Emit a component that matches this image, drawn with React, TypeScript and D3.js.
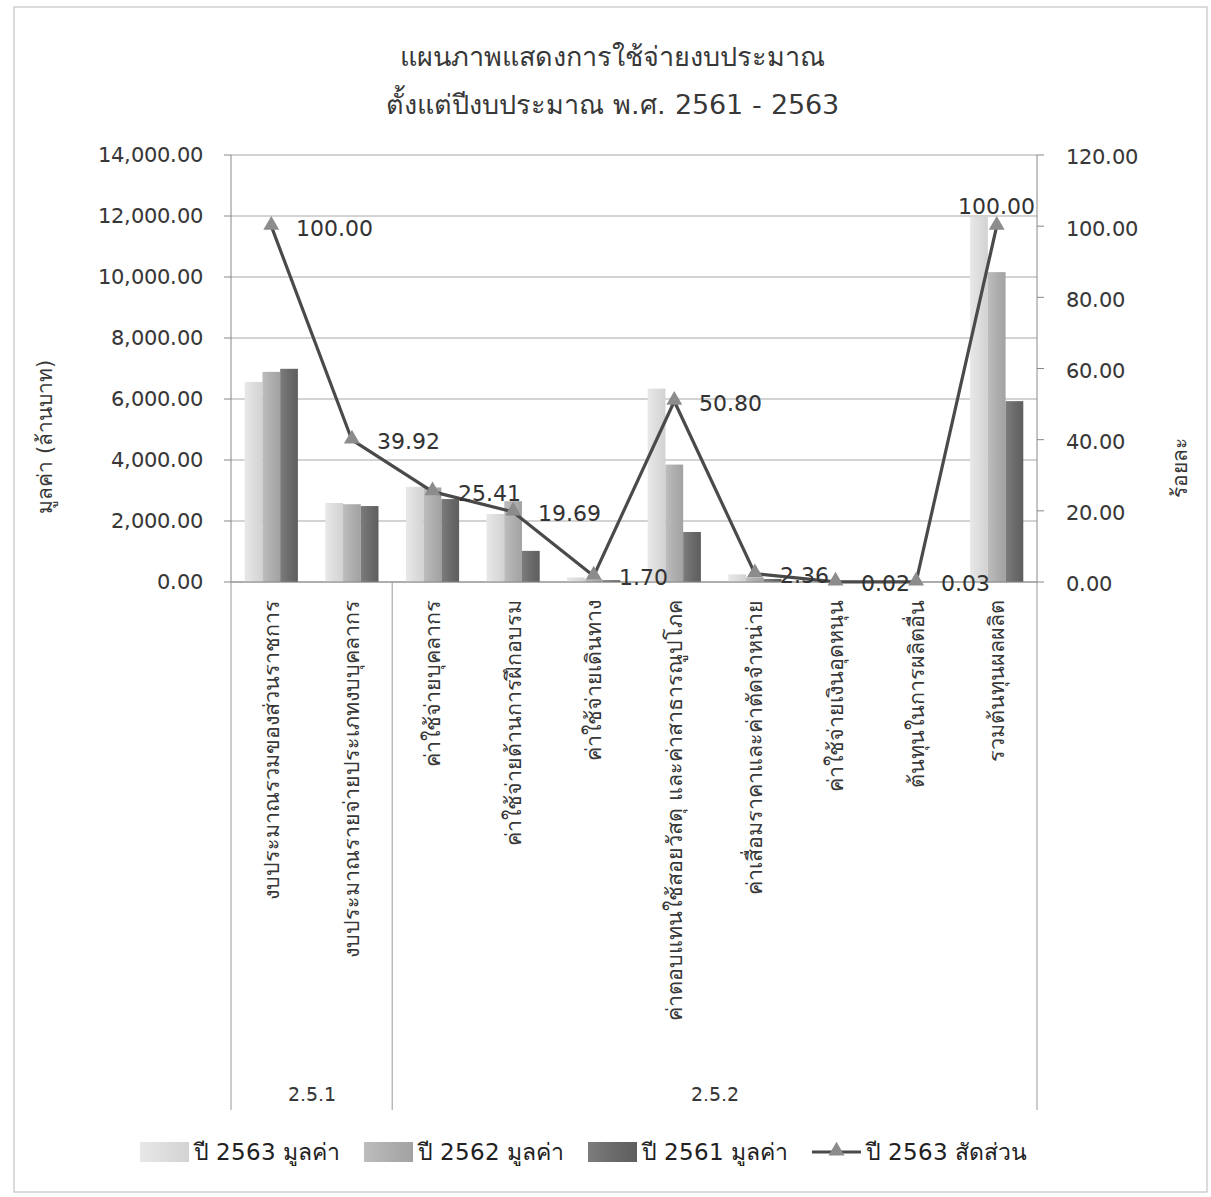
import React, { useEffect, useRef } from "react";
import * as d3 from "d3";

// categories (first level) and their group (second level)
const categories = [
  "งบประมาณรวมของส่วนราชการ",
  "งบประมาณรายจ่ายประเภทงบบุคลากร",
  "ค่าใช้จ่ายบุคลากร",
  "ค่าใช้จ่ายด้านการฝึกอบรม",
  "ค่าใช้จ่ายเดินทาง",
  "ค่าตอบแทนใช้สอยวัสดุ และค่าสาธารณูปโภค",
  "ค่าเสื่อมราคาและค่าตัดจำหน่าย",
  "ค่าใช้จ่ายเงินอุดหนุน",
  "ต้นทุนในการผลิตอื่น",
  "รวมต้นทุนผลผลิต",
];
const groups = ["2.5.1", "2.5.1", "2.5.2", "2.5.2", "2.5.2", "2.5.2", "2.5.2", "2.5.2", "2.5.2", "2.5.2"];

// values in million baht
const value2563 = [6560, 2590, 3120, 2230, 150, 6340, 250, 3, 4, 11970];
const value2562 = [6890, 2550, 3100, 2650, 90, 3850, 150, 2, 3, 10160];
const value2561 = [6990, 2490, 2720, 1020, 60, 1640, 100, 1, 2, 5930];
// percent share 2563
const share2563 = [100.0, 39.92, 25.41, 19.69, 1.7, 50.8, 2.36, 0.02, 0.03, 100.0];

const seriesNames = ["ปี 2563 มูลค่า", "ปี 2562 มูลค่า", "ปี 2561 มูลค่า"];
const lineName = "ปี 2563 สัดส่วน";
const leftTicks = [0, 2000, 4000, 6000, 8000, 10000, 12000, 14000];
const rightTicks = [0, 20, 40, 60, 80, 100, 120];

// latin digits from DejaVu (wide like Tahoma), thai from the Noto fallback
const FONT = "LatinWide, 'Noto Sans', sans-serif";
const fontCss = `@font-face { font-family: "LatinWide"; src: local("DejaVu Sans"); unicode-range: U+0020-007E; }`;

const App = () => {
  const ref = useRef<SVGSVGElement>(null);

  useEffect(() => {
    const width = 1211;
    const height = 1197;
    const left = 231;
    const right = 1037;
    const top = 155;
    const bottom = 582;
    const textColor = "#383838";

    const svg = d3.select(ref.current);
    svg.selectAll("*").remove();

    svg.append("style").text(fontCss);
    svg.append("rect").attr("width", width).attr("height", height).attr("fill", "#fff");
    // chart border
    svg
      .append("rect")
      .attr("x", 14)
      .attr("y", 7)
      .attr("width", 1193)
      .attr("height", 1185)
      .attr("fill", "none")
      .attr("stroke", "#b8b8b8");

    const defs = svg.append("defs");
    const fills = [
      ["#e8e8e8", "#d2d2d2", "#dcdcdc"],
      ["#bdbdbd", "#a2a2a2", "#adadad"],
      ["#7c7c7c", "#5e5e5e", "#6a6a6a"],
    ];
    fills.forEach((c, i) => {
      const g = defs.append("linearGradient").attr("id", "bar" + i).attr("x1", "0").attr("x2", "1").attr("y1", "0").attr("y2", "0");
      g.append("stop").attr("offset", "0%").attr("stop-color", c[0]);
      g.append("stop").attr("offset", "55%").attr("stop-color", c[2]);
      g.append("stop").attr("offset", "100%").attr("stop-color", c[1]);
    });

    const x = d3.scaleBand<string>().domain(categories).range([left, right]).paddingInner(0.34).paddingOuter(0.17);
    const step = (right - left) / categories.length;
    const xs = d3.scaleBand<number>().domain([0, 1, 2]).range([0, x.bandwidth()]);
    const yL = d3.scaleLinear().domain([0, 14000]).range([bottom, top]);
    const yR = d3.scaleLinear().domain([0, 120]).range([bottom, top]);
    const center = (i: number) => left + step * i + step / 2;

    // gridlines
    svg
      .append("g")
      .selectAll("line")
      .data(leftTicks)
      .join("line")
      .attr("x1", left)
      .attr("x2", right)
      .attr("y1", (d) => yL(d))
      .attr("y2", (d) => yL(d))
      .attr("stroke", "#a8a8a8")
      .attr("stroke-width", 1.2);

    // left axis
    const la = svg.append("g");
    la.append("line").attr("x1", left).attr("x2", left).attr("y1", top).attr("y2", bottom).attr("stroke", "#888");
    la.selectAll("line.t")
      .data(leftTicks)
      .join("line")
      .attr("class", "t")
      .attr("x1", left - 7)
      .attr("x2", left)
      .attr("y1", (d) => yL(d))
      .attr("y2", (d) => yL(d))
      .attr("stroke", "#888");
    la.selectAll("text")
      .data(leftTicks)
      .join("text")
      .attr("x", left - 28)
      .attr("y", (d) => yL(d))
      .attr("dy", "0.35em")
      .attr("text-anchor", "end")
      .attr("font-size", 21)
      .attr("fill", textColor)
      .attr("font-family", FONT)
      .text((d) => d3.format(",.2f")(d));

    // right axis
    const ra = svg.append("g");
    ra.append("line").attr("x1", right).attr("x2", right).attr("y1", top).attr("y2", bottom).attr("stroke", "#888");
    ra.selectAll("line.t")
      .data(rightTicks)
      .join("line")
      .attr("class", "t")
      .attr("x1", right)
      .attr("x2", right + 7)
      .attr("y1", (d) => yR(d))
      .attr("y2", (d) => yR(d))
      .attr("stroke", "#888");
    ra.selectAll("text")
      .data(rightTicks)
      .join("text")
      .attr("x", right + 29)
      .attr("y", (d) => yR(d) + 2)
      .attr("dy", "0.35em")
      .attr("text-anchor", "start")
      .attr("font-size", 21)
      .attr("fill", textColor)
      .attr("font-family", FONT)
      .text((d) => d3.format(".2f")(d));

    // bars
    const allSeries = [value2563, value2562, value2561];
    allSeries.forEach((vals, s) => {
      svg
        .append("g")
        .selectAll("rect")
        .data(vals)
        .join("rect")
        .attr("x", (d, i) => (x(categories[i]) as number) + (xs(s) as number))
        .attr("width", xs.bandwidth())
        .attr("y", (d) => yL(d))
        .attr("height", (d) => bottom - yL(d))
        .attr("fill", "url(#bar" + s + ")");
    });

    // category axis line + group separators
    svg.append("line").attr("x1", left).attr("x2", right).attr("y1", bottom).attr("y2", bottom).attr("stroke", "#888");
    const sepIdx: number[] = [0];
    groups.forEach((g, i) => {
      if (i > 0 && g !== groups[i - 1]) sepIdx.push(i);
    });
    sepIdx.push(categories.length);
    svg
      .append("g")
      .selectAll("line")
      .data(sepIdx)
      .join("line")
      .attr("x1", (d) => left + step * d)
      .attr("x2", (d) => left + step * d)
      .attr("y1", bottom)
      .attr("y2", 1110)
      .attr("stroke", "#999");
    const groupNames = sepIdx.slice(0, -1).map((s, k) => ({ name: groups[s], from: s, to: sepIdx[k + 1] }));
    svg
      .append("g")
      .selectAll("text")
      .data(groupNames)
      .join("text")
      .attr("x", (d) => left + step * ((d.from + d.to) / 2))
      .attr("y", 1094)
      .attr("dy", "0.35em")
      .attr("text-anchor", "middle")
      .attr("font-size", 19)
      .attr("fill", textColor)
      .attr("font-family", FONT)
      .text((d) => d.name);

    // category labels (rotated)
    svg
      .append("g")
      .selectAll("text")
      .data(categories)
      .join("text")
      .attr("transform", (d, i) => `translate(${center(i)},600) rotate(-90)`)
      .attr("dy", "0.35em")
      .attr("text-anchor", "end")
      .attr("font-size", 21.5)
      .attr("fill", textColor)
      .attr("font-family", FONT)
      .text((d) => d);

    // line series
    const line = d3
      .line<number>()
      .x((d, i) => center(i))
      .y((d) => yR(d));
    svg
      .append("path")
      .datum(share2563)
      .attr("d", line)
      .attr("fill", "none")
      .attr("stroke", "#4a4a4a")
      .attr("stroke-width", 3.2)
      .attr("stroke-linejoin", "round");
    const tri = d3.symbol().type(d3.symbolTriangle).size(110);
    svg
      .append("g")
      .selectAll("path")
      .data(share2563)
      .join("path")
      .attr("transform", (d, i) => `translate(${center(i)},${yR(d) - 1})`)
      .attr("d", tri)
      .attr("fill", "#8c8c8c");

    // data labels
    const labels = svg
      .append("g")
      .selectAll("text")
      .data(share2563)
      .join("text")
      .attr("x", (d, i) => center(i) + 25)
      .attr("y", (d) => yR(d) + 2)
      .attr("dy", "0.35em")
      .attr("text-anchor", "start")
      .attr("font-size", 21.5)
      .attr("fill", "#333")
      .attr("font-family", FONT)
      .text((d) => d3.format(".2f")(d));
    labels.each(function (d, i) {
      const el = this as SVGTextElement;
      const w = el.getComputedTextLength();
      if (center(i) + 25 + w > right) {
        d3.select(el)
          .attr("x", center(i))
          .attr("y", yR(d) - 20)
          .attr("text-anchor", "middle");
      }
    });

    // title
    const title = svg
      .append("text")
      .attr("x", 612)
      .attr("text-anchor", "middle")
      .attr("font-size", 27)
      .attr("fill", textColor)
      .attr("font-family", FONT);
    title.append("tspan").attr("x", 612).attr("y", 66).text("แผนภาพแสดงการใช้จ่ายงบประมาณ");
    title.append("tspan").attr("x", 612).attr("y", 114).text("ตั้งแต่ปีงบประมาณ พ.ศ. 2561 - 2563");

    // axis titles
    svg
      .append("text")
      .attr("transform", "translate(45,437) rotate(-90)")
      .attr("text-anchor", "middle")
      .attr("dy", "0.35em")
      .attr("font-size", 21)
      .attr("fill", textColor)
      .attr("font-family", FONT)
      .text("มูลค่า (ล้านบาท)");
    svg
      .append("text")
      .attr("transform", "translate(1180,468) rotate(-90)")
      .attr("text-anchor", "middle")
      .attr("dy", "0.35em")
      .attr("font-size", 21)
      .attr("fill", textColor)
      .attr("font-family", FONT)
      .text("ร้อยละ");

    // legend
    const lg = svg.append("g");
    let lx = 140;
    const ly = 1152;
    const items = [...seriesNames, lineName];
    items.forEach((name, i) => {
      if (i < 3) {
        lg.append("rect").attr("x", lx).attr("y", ly - 10).attr("width", 49).attr("height", 20).attr("fill", "url(#bar" + i + ")");
      } else {
        lg.append("line").attr("x1", lx).attr("x2", lx + 49).attr("y1", ly).attr("y2", ly).attr("stroke", "#4a4a4a").attr("stroke-width", 3.2);
        lg.append("path").attr("transform", `translate(${lx + 24.5},${ly - 1})`).attr("d", tri).attr("fill", "#8c8c8c");
      }
      const t = lg
        .append("text")
        .attr("x", lx + 54)
        .attr("y", ly)
        .attr("dy", "0.35em")
        .attr("font-size", 23)
        .attr("fill", "#222")
        .attr("font-family", FONT)
        .text(name);
      lx += 54 + (t.node() as SVGTextElement).getComputedTextLength() + 24;
    });
  }, []);

  return (
    <svg
      ref={ref}
      width={1211}
      height={1197}
      style={{ position: "absolute", left: 0, top: 0, display: "block" }}
    />
  );
};

export default App;
